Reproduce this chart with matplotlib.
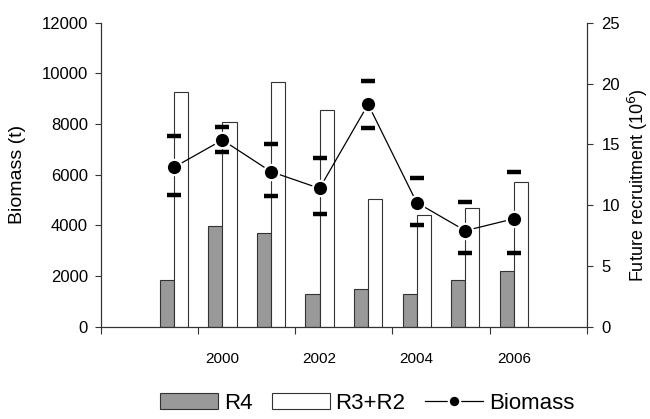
import matplotlib
matplotlib.use('Agg')
import matplotlib.pyplot as plt
from matplotlib.patches import Patch

# values
years = [1999, 2000, 2001, 2002, 2003, 2004, 2005, 2006]
r4 = [3.8, 8.3, 7.7, 2.7, 3.1, 2.7, 3.8, 4.6]            # 10^6, right axis
r3_r2 = [19.3, 16.8, 20.1, 17.8, 10.5, 9.2, 9.8, 11.9]   # 10^6, right axis
biomass = [6290, 7370, 6120, 5460, 8780, 4900, 3790, 4260]  # t, left axis
biomass_hi = [7530, 7900, 7200, 6650, 9710, 5870, 4920, 6110]
biomass_lo = [5190, 6900, 5150, 4450, 7860, 4020, 2900, 2920]
year_labels = ['2000', '2002', '2004', '2006']

plt.rcParams['font.family'] = ['Liberation Sans', 'DejaVu Sans']
axis_col = '#333333'

fig = plt.figure(figsize=(6.5, 4.19), dpi=100)
ax = fig.add_axes([0.1554, 0.2203, 0.7472, 0.7255])
ax2 = ax.twinx()

# bars on the recruitment axis
w = 0.29
ax2.bar([y - w / 2 for y in years], r4, width=w, color='#999999',
        edgecolor='#333333', linewidth=0.8)
ax2.bar([y + w / 2 for y in years], r3_r2, width=w, color='white',
        edgecolor='#333333', linewidth=0.8)

# biomass line with interval caps
ax.plot(years, biomass_hi, linestyle='none', marker='_', markersize=10,
        markeredgewidth=3.2, color='black')
ax.plot(years, biomass_lo, linestyle='none', marker='_', markersize=10,
        markeredgewidth=3.2, color='black')
ax.plot(years, biomass, color='black', linewidth=0.9, marker='o',
        markersize=11, markerfacecolor='black', markeredgecolor='white',
        markeredgewidth=1.5)

ax.set_zorder(ax2.get_zorder() + 1)
ax.patch.set_visible(False)

ax.set_xlim(1997.5, 2007.5)
ax.set_ylim(0, 12000)
ax2.set_ylim(0, 25)
ax.set_yticks(range(0, 12001, 2000))
ax2.set_yticks(range(0, 26, 5))

ax.set_xticks([1997.5 + 2 * i for i in range(6)])
ax.set_xticklabels([])
ax.set_xticks([2000, 2002, 2004, 2006], minor=True)
ax.set_xticklabels(year_labels, minor=True,
                   family=['Liberation Sans Narrow', 'Liberation Sans'],
                   fontsize=11)
ax.tick_params(axis='x', which='minor', length=0, pad=18)
ax.tick_params(axis='x', which='major', direction='out', length=5,
               color=axis_col, width=0.8)
ax.tick_params(axis='y', direction='out', length=4.5, pad=5, labelsize=12,
               color=axis_col, width=0.8)
ax2.tick_params(axis='y', direction='out', length=4.5, pad=6, labelsize=12,
                color=axis_col, width=0.8)

for a in (ax, ax2):
    a.spines['top'].set_visible(False)
    for s in ('left', 'right', 'bottom'):
        a.spines[s].set_color(axis_col)
        a.spines[s].set_linewidth(0.8)

ax.set_ylabel('Biomass (t)', fontsize=14)
ax.yaxis.set_label_coords(-0.155, 0.5)
ax2.set_ylabel('Future recruitment (10$^{6}$)', fontsize=13)
ax2.yaxis.set_label_coords(1.08, 0.464)

handles = [Patch(facecolor='#999999', edgecolor='#333333', linewidth=0.8),
           Patch(facecolor='white', edgecolor='#333333', linewidth=0.8),
           ax.lines[-1]]
fig.legend(handles, ['R4', 'R3+R2', 'Biomass'], ncol=3, frameon=False,
           loc='center', bbox_to_anchor=(0.565, 0.038), fontsize=16,
           handlelength=2.6, handletextpad=0.25, columnspacing=0.9,
           markerscale=0.75, borderaxespad=0)

fig.savefig('out.png', dpi=100)
